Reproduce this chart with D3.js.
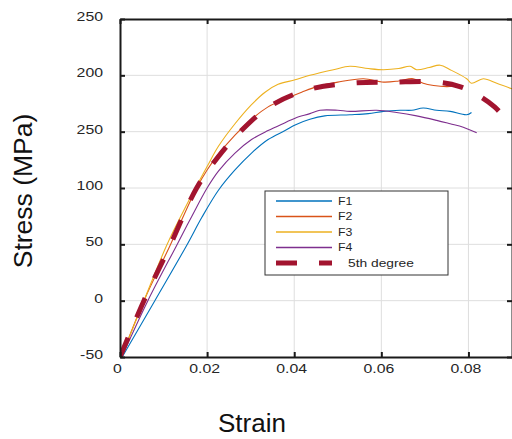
<!DOCTYPE html>
<html>
<head>
<meta charset="utf-8">
<title>Stress-strain</title>
<style>
  body { margin: 0; background: #fff; }
  svg { display: block; font-family: "Liberation Sans", Arial, sans-serif; }
</style>
<script src="https://d3js.org/d3.v7.min.js"></script>
</head>
<body>
<div id="chart"></div>
<script>
// values
var f1Strain = [0.0005, 0.0080, 0.0153, 0.0188, 0.0226, 0.0264, 0.0302, 0.0340, 0.0379, 0.0402, 0.0436, 0.0470, 0.0528, 0.0570, 0.0605, 0.0643, 0.0670, 0.0696, 0.0727, 0.0758, 0.0796, 0.0807];
var f1Stress = [-50, 0, 49, 74, 98, 116, 131, 143, 151, 156, 161, 164, 165, 166, 168, 169, 169, 171, 169, 168, 165, 167];

var f2Strain = [0.0003, 0.0055, 0.0115, 0.0176, 0.0200, 0.0226, 0.0264, 0.0302, 0.0340, 0.0379, 0.0417, 0.0452, 0.0500, 0.0559, 0.0605, 0.0640, 0.0673, 0.0696, 0.0720, 0.0750, 0.0788];
var f2Stress = [-50, 0, 49, 100, 116, 130, 147, 161, 172, 179, 185, 190, 194, 197, 194, 195, 197, 193, 191, 190, 191];

var f3Strain = [0.0003, 0.0055, 0.0107, 0.0149, 0.0200, 0.0226, 0.0264, 0.0302, 0.0333, 0.0363, 0.0402, 0.0436, 0.0490, 0.0528, 0.0570, 0.0605, 0.0640, 0.0666, 0.0681, 0.0710, 0.0735, 0.0758, 0.0796, 0.0807, 0.0834, 0.0865, 0.0900];
var f3Stress = [-50, 0, 49, 82, 119, 137, 157, 174, 185, 192, 196, 200, 205, 208, 206, 205, 206, 208, 205, 207, 209, 205, 197, 193, 197, 193, 188];

var f4Strain = [0.0004, 0.0064, 0.0130, 0.0165, 0.0200, 0.0226, 0.0264, 0.0302, 0.0340, 0.0379, 0.0402, 0.0436, 0.0459, 0.0500, 0.0528, 0.0589, 0.0635, 0.0681, 0.0727, 0.0758, 0.0788, 0.0819];
var f4Stress = [-50, 0, 49, 75, 100, 115, 131, 143, 151, 158, 162, 166, 169, 169, 168, 169, 167, 164, 160, 157, 154, 149];

var fitStrain = [0, 0.0055, 0.0115, 0.0176, 0.0226, 0.0276, 0.0342, 0.0429, 0.0528, 0.0628, 0.0727, 0.0780, 0.0819, 0.0860, 0.0888, 0.0900];
var fitStress = [-50, 0, 49, 100, 128, 150, 172, 187, 193, 194, 194, 190, 183, 172, 160, 155];

var xTicks = [0, 0.02, 0.04, 0.06, 0.08];
var xTickLabels = ["0", "0.02", "0.04", "0.06", "0.08"];
var yTicks = [-50, 0, 50, 100, 150, 200, 250];
var yTickLabels = ["-50", "0", "50", "100", "250", "200", "250"];

var seriesNames = ["F1", "F2", "F3", "F4", "5th degree"];
var seriesColors = ["#0072bd", "#d95319", "#edb120", "#7e2f8e", "#a2142f"];

var svgDims = {width: 512, height: 439};
var margin = {top: 19, right: 0, bottom: 82, left: 120};
var width = svgDims.width - margin.left - margin.right;
var height = svgDims.height - margin.top - margin.bottom;

var svg = d3.select("#chart").append("svg")
  .attr("width", svgDims.width)
  .attr("height", svgDims.height);

var g = svg.append("g")
  .attr("transform", "translate(" + margin.left + "," + margin.top + ")");

var x = d3.scaleLinear().domain([0, 0.09]).range([0, width]);
var y = d3.scaleLinear().domain([-50, 250]).range([height, 0]);

// grid
g.append("g").selectAll("line").data(xTicks.slice(1)).join("line")
  .attr("x1", d => x(d)).attr("x2", d => x(d))
  .attr("y1", 0).attr("y2", height)
  .attr("stroke", "#dedede").attr("stroke-width", 1);
g.append("g").selectAll("line").data(yTicks.slice(1, -1)).join("line")
  .attr("x1", 0).attr("x2", width)
  .attr("y1", d => y(d)).attr("y2", d => y(d))
  .attr("stroke", "#dedede").attr("stroke-width", 1);

g.append("clipPath").attr("id", "clip")
  .append("rect").attr("width", width).attr("height", height);

function join(xs, ys) {
  var out = [];
  for (var i = 0; i < xs.length; i++) out.push({x: xs[i], y: ys[i]});
  return out;
}

var line = d3.line()
  .x(d => x(d.x))
  .y(d => y(d.y))
  .curve(d3.curveCatmullRom.alpha(0.5));

var plot = g.append("g").attr("clip-path", "url(#clip)");

var curves = [
  join(f1Strain, f1Stress),
  join(f2Strain, f2Stress),
  join(f3Strain, f3Stress),
  join(f4Strain, f4Stress)
];

curves.forEach(function (c, i) {
  plot.append("path")
    .datum(c)
    .attr("fill", "none")
    .attr("stroke", seriesColors[i])
    .attr("stroke-width", 1.1)
    .attr("d", line);
});

plot.append("path")
  .datum(join(fitStrain, fitStress))
  .attr("fill", "none")
  .attr("stroke", seriesColors[4])
  .attr("stroke-width", 5)
  .attr("stroke-dasharray", "21,22")
  .attr("d", line);

// axes
var xAxis = d3.axisBottom(x).tickValues(xTicks)
  .tickFormat((d, i) => xTickLabels[i])
  .tickSizeInner(-5).tickSizeOuter(0).tickPadding(7);
var yAxis = d3.axisLeft(y).tickValues(yTicks)
  .tickFormat((d, i) => yTickLabels[i])
  .tickSizeInner(-5).tickSizeOuter(0).tickPadding(17);

var gx = g.append("g").attr("transform", "translate(0," + height + ")").call(xAxis);
var gy = g.append("g").call(yAxis);

g.append("g").call(d3.axisTop(x).tickValues(xTicks).tickFormat("").tickSizeInner(-5).tickSizeOuter(0));
g.append("g").attr("transform", "translate(" + width + ",0)")
  .call(d3.axisRight(y).tickValues(yTicks).tickFormat("").tickSizeInner(-5).tickSizeOuter(0));

svg.selectAll(".domain").attr("stroke", "#1a1a1a").attr("stroke-width", 2);
svg.selectAll(".tick line").attr("stroke", "#1a1a1a").attr("stroke-width", 2);
svg.selectAll(".tick text").attr("font-size", 12).attr("fill", "#262626")
  .attr("font-family", "Liberation Sans, Arial, sans-serif");

// the tick labels in the picture are drawn wider than they are tall
var stretch = 1.32;
gx.selectAll(".tick text")
  .attr("x", -3 / stretch)
  .attr("transform", "scale(" + stretch + ",1)");
gy.selectAll(".tick text")
  .attr("x", -17 / stretch)
  .attr("y", -2.5)
  .attr("transform", "scale(" + stretch + ",1)");

// axis titles
svg.append("text")
  .attr("x", 252).attr("y", 432)
  .attr("text-anchor", "middle")
  .attr("font-size", 26).attr("fill", "#111")
  .text("Strain");

svg.append("text")
  .attr("transform", "translate(32,191) rotate(-90)")
  .attr("text-anchor", "middle")
  .attr("font-size", 26.5).attr("fill", "#111")
  .text("Stress (MPa)");

// legend
var legend = svg.append("g").attr("transform", "translate(265,191)");
legend.append("rect")
  .attr("width", 183).attr("height", 84)
  .attr("fill", "#fff").attr("stroke", "#333").attr("stroke-width", 1);

seriesNames.forEach(function (name, i) {
  var ly = 10 + i * 15.5;
  var item = legend.append("line")
    .attr("x1", 11).attr("x2", 67)
    .attr("y1", ly).attr("y2", ly)
    .attr("stroke", seriesColors[i]);
  if (i === 4) {
    item.attr("stroke-width", 5).attr("stroke-dasharray", "21,22");
  } else {
    item.attr("stroke-width", 1.5);
  }
  var s = i === 4 ? 1.2 : 1.12;
  legend.append("text")
    .attr("x", (i === 4 ? 83 : 73) / s).attr("y", ly)
    .attr("dy", "0.35em")
    .attr("transform", "scale(" + s + ",1)")
    .attr("font-size", i === 4 ? 11.5 : 11).attr("fill", "#262626")
    .text(name);
});
</script>
</body>
</html>
